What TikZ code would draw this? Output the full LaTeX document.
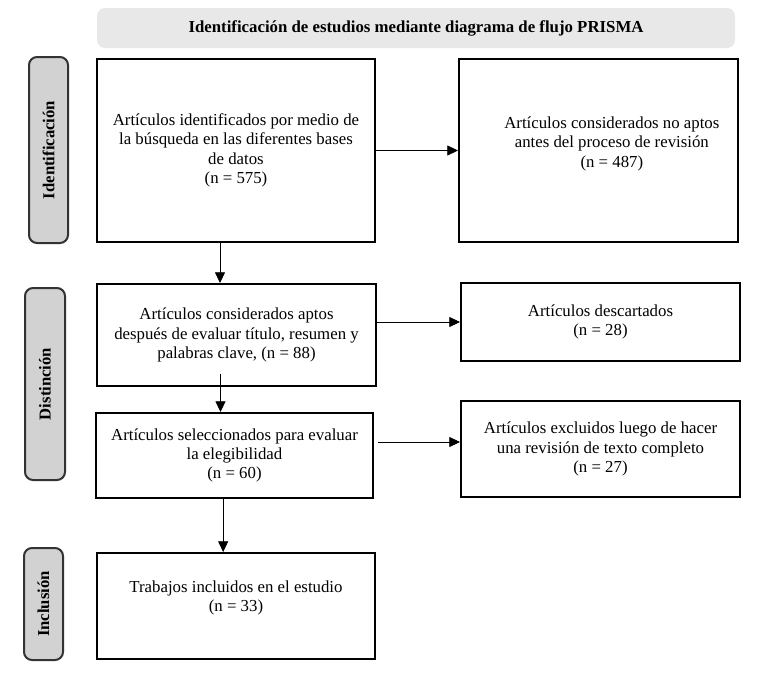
\documentclass[tikz,border=0pt]{standalone}
\usepackage{fontspec}
\setmainfont{Liberation Serif}
\usetikzlibrary{arrows.meta}
\tikzset{
  caja/.style={draw, line width=1.5pt, align=center, font=\fontsize{12.6}{14.5}\selectfont, inner sep=2pt},
  fase/.style={draw=black!80, line width=1.5pt, fill=gray!35, rounded corners=6pt, rotate=90,
    font=\bfseries\fontsize{12.5}{14}\selectfont, inner sep=0pt},
  flecha/.style={line width=0.6pt, -{Triangle[length=8pt,width=7.5pt]}}
}
\begin{document}
\begin{tikzpicture}[x=0.75pt, y=-0.75pt]
   \useasboundingbox (0,0) rectangle (768,675);
   \node[fill=black!9, rounded corners=6pt, minimum width=478.5pt, minimum height=30pt,
     font=\bfseries\fontsize{12.6}{14}\selectfont] (h0) at (416,28)
     {Identificación de estudios mediante diagrama de flujo PRISMA};
   \node[fase, minimum width=139.5pt, minimum height=29.25pt] (s1) at (48.5,150) {Identificación};
   \node[fase, minimum width=144pt, minimum height=30pt] (s2) at (45,384) {Distinción};
   \node[fase, minimum width=84pt, minimum height=29.25pt] (s3) at (43.5,604) {Inclusión};
   \node[caja, minimum width=208.5pt, minimum height=137.25pt] (b1) at (236,150.5)
     {Artículos identificados por medio de\\la búsqueda en las diferentes bases\\de datos\\(n = 575)};
   \node[caja, minimum width=209.25pt, minimum height=137.25pt,
     label={[xshift=10pt, yshift=5pt, align=center, font=\fontsize{12.6}{14.5}\selectfont]center:Artículos considerados no aptos\\antes del proceso de revisión\\(n = 487)}] (b2) at (598.5,150.5) {};
   \node[caja, minimum width=209.25pt, minimum height=76.5pt] (b3) at (236.5,335)
     {Artículos considerados aptos\\después de evaluar título, resumen y\\palabras clave, (n = 88)};
   \node[caja, minimum width=209.25pt, minimum height=58.5pt] (b4) at (600.5,322)
     {Artículos descartados\\(n = 28)};
   \node[caja, minimum width=207.75pt, minimum height=63.75pt] (b5) at (234.5,455.5)
     {Artículos seleccionados para evaluar\\la elegibilidad\\(n = 60)};
   \node[caja, minimum width=209.25pt, minimum height=72pt] (b6) at (600.5,449)
     {Artículos excluidos luego de hacer\\una revisión de texto completo\\(n = 27)};
   \node[caja, minimum width=208.5pt, minimum height=79.5pt,
     label={[yshift=6pt, align=center, font=\fontsize{12.6}{14.5}\selectfont]center:Trabajos incluidos en el estudio\\(n = 33)}] (b7) at (236,606) {};
  \draw[flecha] ([xshift=-12pt]b1.south) -- ([xshift=-12pt]b1.south |- b3.north);
  \draw[flecha] ([xshift=-12pt,yshift=9.75pt]b3.south) -- ([xshift=-12pt]b3.south |- b5.north);
  \draw[flecha] ([xshift=-8.5pt]b5.south) -- ([xshift=-8.5pt]b5.south |- b7.north);
  \draw[flecha] (b1.east) -- (b2.west);
  \draw[flecha] (b3.east |- b4.west) -- (b4.west);
  \draw[flecha] ([xshift=3pt,yshift=5.25pt]b5.east |- b6.west) -- ([yshift=5.25pt]b6.west);
\end{tikzpicture}
\end{document}
